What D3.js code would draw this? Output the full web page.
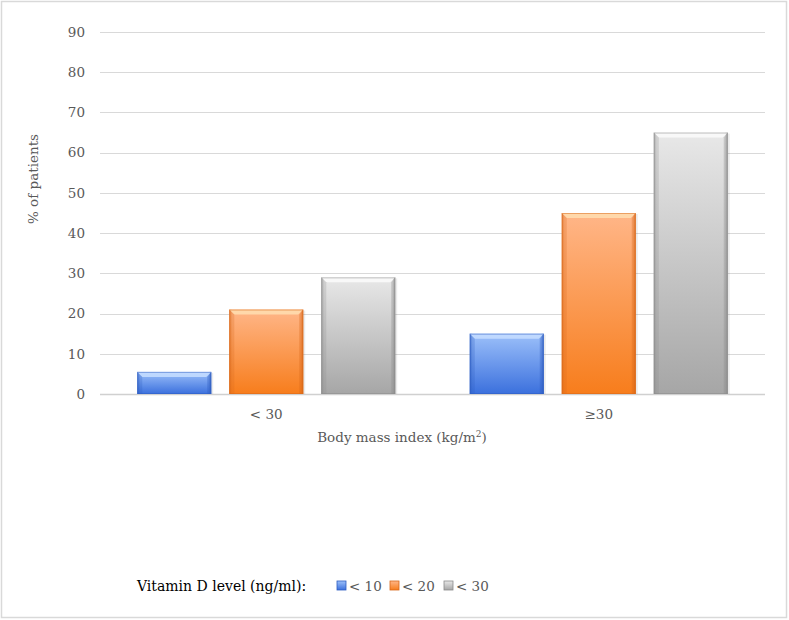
<!DOCTYPE html>
<html><head><meta charset="utf-8">
<script src="https://cdn.jsdelivr.net/npm/d3@7"></script>
<style>body{margin:0;background:#fff}svg{display:block}</style>
</head><body>
<script>
const categories = ["< 30", "≥30"];
const seriesNames = ["< 10", "< 20", "< 30"];
const series10 = [5.5, 15];
const series20 = [21, 45];
const series30 = [29, 65];
const yTicks = [0,10,20,30,40,50,60,70,80,90];
const seriesValues = [series10, series20, series30];

const W = 789, H = 620;
const svg = d3.select("body").append("svg").attr("width", W).attr("height", H);
const font = "'DejaVu Serif', serif";
const fs = 13.5;

svg.append("rect").attr("x",1.5).attr("y",1.5).attr("width",W-4).attr("height",H-4)
  .attr("fill","#fff").attr("stroke","#d9d9d9").attr("stroke-width",1.5);

const y = d3.scaleLinear().domain([0,90]).range([394,32]);
const x0 = d3.scaleBand().domain(categories).range([100,765]).padding(0);
const x1 = d3.scaleBand().domain(seriesNames).range([0,x0.bandwidth()]).paddingInner(0.196).paddingOuter(0.405);

const pal = [
  {top:"#9cc0fa", bot:"#3b70dd", edge:"#2d5cc0", cap:"#c3dbff"},
  {top:"#ffb688", bot:"#f77d1c", edge:"#d8681a", cap:"#ffdcae"},
  {top:"#e8e8e8", bot:"#a6a6a6", edge:"#8a8a8a", cap:"#fafafa"}
];
const defs = svg.append("defs");
pal.forEach((p,i)=>{
  const g = defs.append("linearGradient").attr("id","g"+i).attr("x1",0).attr("y1",0).attr("x2",0).attr("y2",1);
  g.append("stop").attr("offset","0%").attr("stop-color",p.top);
  g.append("stop").attr("offset","100%").attr("stop-color",p.bot);
  const s = defs.append("linearGradient").attr("id","s"+i).attr("x1",0).attr("y1",0).attr("x2",1).attr("y2",0);
  s.append("stop").attr("offset","0%").attr("stop-color",p.edge).attr("stop-opacity",0.55);
  s.append("stop").attr("offset","4%").attr("stop-color",p.edge).attr("stop-opacity",0);
  s.append("stop").attr("offset","96%").attr("stop-color",p.edge).attr("stop-opacity",0);
  s.append("stop").attr("offset","100%").attr("stop-color",p.edge).attr("stop-opacity",0.7);
});

// gridlines
svg.append("g").selectAll("line").data(yTicks).join("line")
  .attr("x1",100).attr("x2",765).attr("y1",d=>Math.round(y(d))+0.5).attr("y2",d=>Math.round(y(d))+0.5)
  .attr("stroke",d=>d===0?"#d0d0d0":"#d9d9d9").attr("stroke-width",d=>d===0?1.5:1.2);

// y tick labels
svg.append("g").selectAll("text").data(yTicks).join("text")
  .attr("x",85).attr("y",d=>y(d)).attr("dy","0.35em").attr("text-anchor","end")
  .attr("font-family",font).attr("font-size",fs).attr("fill","#595959").text(d=>d);

// bars
const groups = svg.append("g").selectAll("g").data(categories).join("g")
  .attr("transform",d=>`translate(${x0(d)},0)`);
groups.each(function(cat,ci){
  const g = d3.select(this);
  seriesNames.forEach((sn,si)=>{
    const v = seriesValues[si][ci];
    const bx = x1(sn), bw = x1.bandwidth(), by = y(v), bh = y(0)-y(v);
    const p = pal[si];
    g.append("rect").attr("x",bx+2).attr("y",by+1).attr("width",bw).attr("height",bh-1)
      .attr("fill","#000").attr("opacity",0.08);
    g.append("rect").attr("x",bx).attr("y",by).attr("width",bw).attr("height",bh).attr("fill",`url(#g${si})`);
    g.append("rect").attr("x",bx).attr("y",by).attr("width",bw).attr("height",bh).attr("fill",`url(#s${si})`);
    const cap = 5;
    g.append("path").attr("d",`M${bx},${by}L${bx+bw},${by}L${bx+bw-cap},${by+cap}L${bx+cap},${by+cap}Z`)
      .attr("fill",p.cap).attr("opacity",0.9);
    g.append("path").attr("d",`M${bx},${by}L${bx+cap},${by+cap}L${bx+cap},${by+bh}L${bx},${by+bh}Z`)
      .attr("fill",p.edge).attr("opacity",0.25);
    g.append("path").attr("d",`M${bx+bw},${by}L${bx+bw-cap+1},${by+cap}L${bx+bw-cap+1},${by+bh}L${bx+bw},${by+bh}Z`)
      .attr("fill",p.edge).attr("opacity",0.35);
    g.append("rect").attr("x",bx+0.5).attr("y",by+0.5).attr("width",bw-1).attr("height",bh-1)
      .attr("fill","none").attr("stroke",p.edge).attr("stroke-opacity",0.5).attr("stroke-width",1);
  });
});

// category labels
svg.append("g").selectAll("text").data(categories).join("text")
  .attr("x",d=>x0(d)+x0.bandwidth()/2).attr("y",419).attr("text-anchor","middle")
  .attr("font-family",font).attr("font-size",fs).attr("fill","#595959").text(d=>d);

// axis titles
const xt = svg.append("text").attr("x",402).attr("y",442).attr("text-anchor","middle")
  .attr("font-family",font).attr("font-size",fs).attr("fill","#595959");
xt.append("tspan").text("Body mass index (kg/m");
xt.append("tspan").attr("font-size",9).attr("dy",-5).text("2");
xt.append("tspan").attr("dy",5).text(")");

svg.append("text").attr("transform","translate(38,179) rotate(-90)").attr("text-anchor","middle")
  .attr("font-family",font).attr("font-size",fs).attr("fill","#595959").text("% of patients");

// legend
svg.append("text").attr("x",137).attr("y",591).attr("font-family",font).attr("font-size",14)
  .attr("fill","#000").text("Vitamin D level (ng/ml):");
const legX = [337,390,444];
const leg = svg.append("g").selectAll("g").data(seriesNames).join("g")
  .attr("transform",(d,i)=>`translate(${legX[i]},581)`);
leg.append("rect").attr("width",9).attr("height",9).attr("fill",(d,i)=>`url(#g${i})`)
  .attr("stroke",(d,i)=>pal[i].edge).attr("stroke-width",0.8);
leg.append("text").attr("x",12).attr("y",9.5).attr("font-family",font).attr("font-size",fs)
  .attr("fill","#595959").text(d=>d);
</script>
</body></html>
